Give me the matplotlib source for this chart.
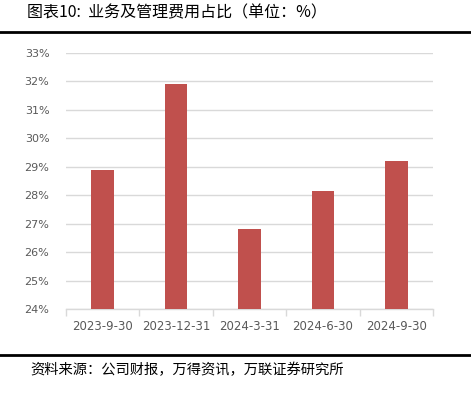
import matplotlib
matplotlib.use("Agg")
import matplotlib.pyplot as plt
import numpy as np

# data
dates = ["2023-9-30", "2023-12-31", "2024-3-31", "2024-6-30", "2024-9-30"]
ratio = [28.9, 31.9, 26.8, 28.15, 29.2]
yticks = [24, 25, 26, 27, 28, 29, 30, 31, 32, 33]

plt.rcParams['font.family'] = ['Noto Sans CJK SC', 'DejaVu Sans']
narrow = ["Liberation Sans Narrow", "DejaVu Sans"]

fig = plt.figure(figsize=(4.71, 3.96), dpi=100)
ax = fig.add_axes([66/471, 1 - 309/396, (433 - 66)/471, (309 - 53)/396])

x = np.arange(len(dates))
ax.bar(x, ratio, width=0.31, color="#C0504D", zorder=3)

ax.set_ylim(24, 33)
ax.set_xlim(-0.5, len(dates) - 0.5)
ax.set_yticks(yticks)
ax.set_yticklabels([f"{v}%" for v in yticks], fontsize=8, color="#595959", family=narrow)
ax.set_xticks(x)
ax.set_xticklabels(dates, fontsize=8.5, color="#595959", family=narrow)
ax.set_xticks(np.arange(-0.5, len(dates)), minor=True)
ax.tick_params(axis="x", which="major", length=0, pad=8)
ax.tick_params(axis="x", which="minor", length=5, color="#D9D9D9", width=1)
ax.tick_params(axis="y", length=0, pad=12)

ax.grid(axis="y", color="#D9D9D9", linewidth=1, zorder=0)
for s in ["top", "right", "left"]:
    ax.spines[s].set_visible(False)
ax.spines["bottom"].set_color("#D9D9D9")
ax.spines["bottom"].set_linewidth(1)

# title and source
fig.text(27/471, 1 - 13/396, "图表10:  业务及管理费用占比（单位：%）", fontsize=11.5,
         va="center", ha="left", color="#000000")
fig.add_artist(plt.Line2D([0, 1], [1 - 32/396, 1 - 32/396], color="black", linewidth=2))
fig.add_artist(plt.Line2D([0, 1], [1 - 355/396, 1 - 355/396], color="black", linewidth=2))
fig.text(30/471, 1 - 370/396, "资料来源：公司财报，万得资讯，万联证券研究所", fontsize=10.3,
         va="center", ha="left", style="italic", color="#000000")

fig.savefig("out.png", dpi=100)
